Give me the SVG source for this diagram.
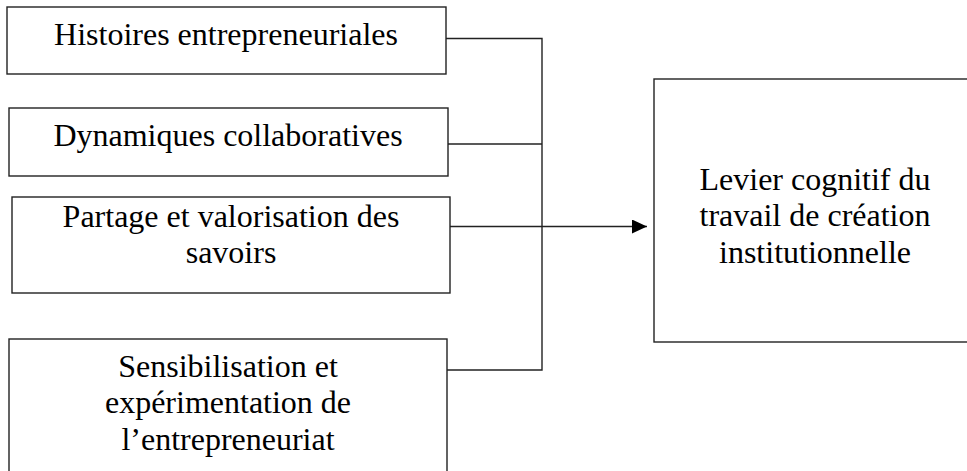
<svg xmlns="http://www.w3.org/2000/svg" width="967" height="471" viewBox="0 0 967 471">
<style>
.box{fill:#fff;stroke:#222;stroke-width:1.4}
.lbl{font-family:"Liberation Serif","Times New Roman",serif;font-size:32px;fill:#000;text-anchor:middle}
.conn{fill:none;stroke:#222;stroke-width:1.4}
</style>
<defs>
<marker id="arr" markerWidth="15" markerHeight="14" refX="15" refY="7" orient="auto" markerUnits="userSpaceOnUse">
<path d="M0,0 L15,7 L0,14 Z" fill="#000"/>
</marker>
</defs>
<rect width="967" height="471" fill="#fff"/>
<g id="connectors">
<path class="conn" d="M446,38.5 H542 V370 H447"/>
<path class="conn" d="M448,144 H542"/>
<path class="conn" d="M450,226.5 H647" marker-end="url(#arr)"/>
</g>
<g id="n1">
<rect class="box" x="7" y="7" width="439" height="67"/>
<text class="lbl" x="226" y="44.5">Histoires entrepreneuriales</text>
</g>
<g id="n2">
<rect class="box" x="9" y="108" width="439" height="68"/>
<text class="lbl" x="228" y="145.5">Dynamiques collaboratives</text>
</g>
<g id="n3">
<rect class="box" x="12" y="197" width="438" height="96"/>
<text class="lbl" x="231" y="226.5">Partage et valorisation des</text>
<text class="lbl" x="231" y="263">savoirs</text>
</g>
<g id="n4">
<rect class="box" x="9" y="339" width="438" height="140"/>
<text class="lbl" x="228" y="376.5">Sensibilisation et</text>
<text class="lbl" x="228" y="413">expérimentation de</text>
<text class="lbl" x="228" y="449.5">l’entrepreneuriat</text>
</g>
<g id="n5">
<rect class="box" x="654" y="79" width="322" height="263"/>
<text class="lbl" x="815" y="189.5">Levier cognitif du</text>
<text class="lbl" x="815" y="226">travail de création</text>
<text class="lbl" x="815" y="262.5">institutionnelle</text>
</g>
</svg>
